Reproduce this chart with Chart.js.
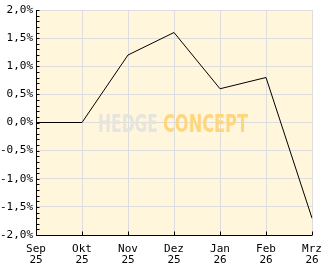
<!DOCTYPE html>
<html>
<head>
<meta charset="utf-8">
<script src="https://cdn.jsdelivr.net/npm/chart.js@4"></script>
<style>
  html, body { margin: 0; padding: 0; background: #fff; }
  #wrap { width: 332px; height: 269px; position: relative; }
</style>
</head>
<body>
<div id="wrap"><canvas id="perfChart"></canvas></div>
<script>
// Monatsrendite-Verlauf
const months = [['Sep', '25'], ['Okt', '25'], ['Nov', '25'], ['Dez', '25'], ['Jan', '26'], ['Feb', '26'], ['Mrz', '26']];
const performance = [0.0, 0.0, 1.2, 1.6, 0.6, 0.8, -1.7];
const yTicks = [-2.0, -1.5, -1.0, -0.5, 0.0, 0.5, 1.0, 1.5, 2.0];

const FONT = { family: "'DejaVu Sans Mono', monospace", size: 11, lineHeight: 1.0 };

// Hintergrund, Achsen, kleine Ticks und Wasserzeichen
const decorPlugin = {
  id: 'decor',
  beforeDraw(chart) {
    const { ctx, chartArea: a } = chart;
    ctx.save();
    ctx.fillStyle = '#fff6dc';
    ctx.fillRect(a.left, a.top, a.right - a.left, a.bottom - a.top);
    ctx.restore();
  },
  beforeDatasetsDraw(chart) {
    const { ctx, chartArea: a } = chart;
    ctx.save();
    ctx.font = "bold 24px 'DejaVu Sans Condensed', sans-serif";
    ctx.textBaseline = 'alphabetic';
    const base = 132;
    const w1 = ctx.measureText('HEDGE').width;
    const w2 = ctx.measureText('CONCEPT').width;
    ctx.save();
    ctx.translate(98, base);
    ctx.scale(60 / w1, 1);
    ctx.fillStyle = '#e6e4de';
    ctx.fillText('HEDGE', 0, 0);
    ctx.restore();
    ctx.save();
    ctx.translate(163, base);
    ctx.scale(85 / w2, 1);
    ctx.fillStyle = '#ffd680';
    ctx.fillText('CONCEPT', 0, 0);
    ctx.restore();
    ctx.restore();
  },
  afterDraw(chart) {
    const { ctx, chartArea: a, scales } = chart;
    const L = Math.round(a.left) + 0.5;
    const B = Math.round(a.bottom) + 0.5;
    ctx.save();
    ctx.strokeStyle = '#000';
    ctx.lineWidth = 1;
    ctx.beginPath();
    ctx.moveTo(L, a.top);
    ctx.lineTo(L, B);
    ctx.lineTo(a.right, B);
    // kleine Ticks alle 0,1 %
    for (let i = -20; i <= 20; i++) {
      const y = Math.round(scales.y.getPixelForValue(i / 10)) + 0.5;
      ctx.moveTo(L, y);
      ctx.lineTo(L + 3, y);
    }
    // Ticks der Monate
    months.forEach((m, i) => {
      const x = Math.round(scales.x.getPixelForValue(i)) + 0.5;
      ctx.moveTo(x, B);
      ctx.lineTo(x, B - 4);
    });
    ctx.stroke();
    ctx.restore();
  }
};

new Chart(document.getElementById('perfChart'), {
  type: 'line',
  data: {
    labels: months,
    datasets: [{
      data: performance,
      borderColor: '#000',
      borderWidth: 1,
      pointRadius: 0,
      tension: 0,
      fill: false
    }]
  },
  options: {
    responsive: true,
    maintainAspectRatio: false,
    animation: false,
    layout: { padding: { top: 10, right: 20, left: 0, bottom: 0 } },
    plugins: { legend: { display: false }, tooltip: { enabled: false } },
    scales: {
      x: {
        offset: false,
        grid: { color: '#dddddd', drawTicks: false },
        border: { display: false },
        ticks: { color: '#000', font: FONT, padding: 9, maxRotation: 0, autoSkip: false },
        afterFit(s) { s.height = 34; }
      },
      y: {
        min: -2, max: 2,
        afterBuildTicks(s) { s.ticks = yTicks.map(v => ({ value: v })); },
        grid: { color: '#dddddd', drawTicks: false },
        border: { display: false },
        ticks: {
          color: '#000', font: FONT, padding: 3,
          callback: v => v.toFixed(1).replace('.', ',') + '%'
        },
        afterFit(s) { s.width = 36; }
      }
    }
  },
  plugins: [decorPlugin]
});
</script>
</body>
</html>
